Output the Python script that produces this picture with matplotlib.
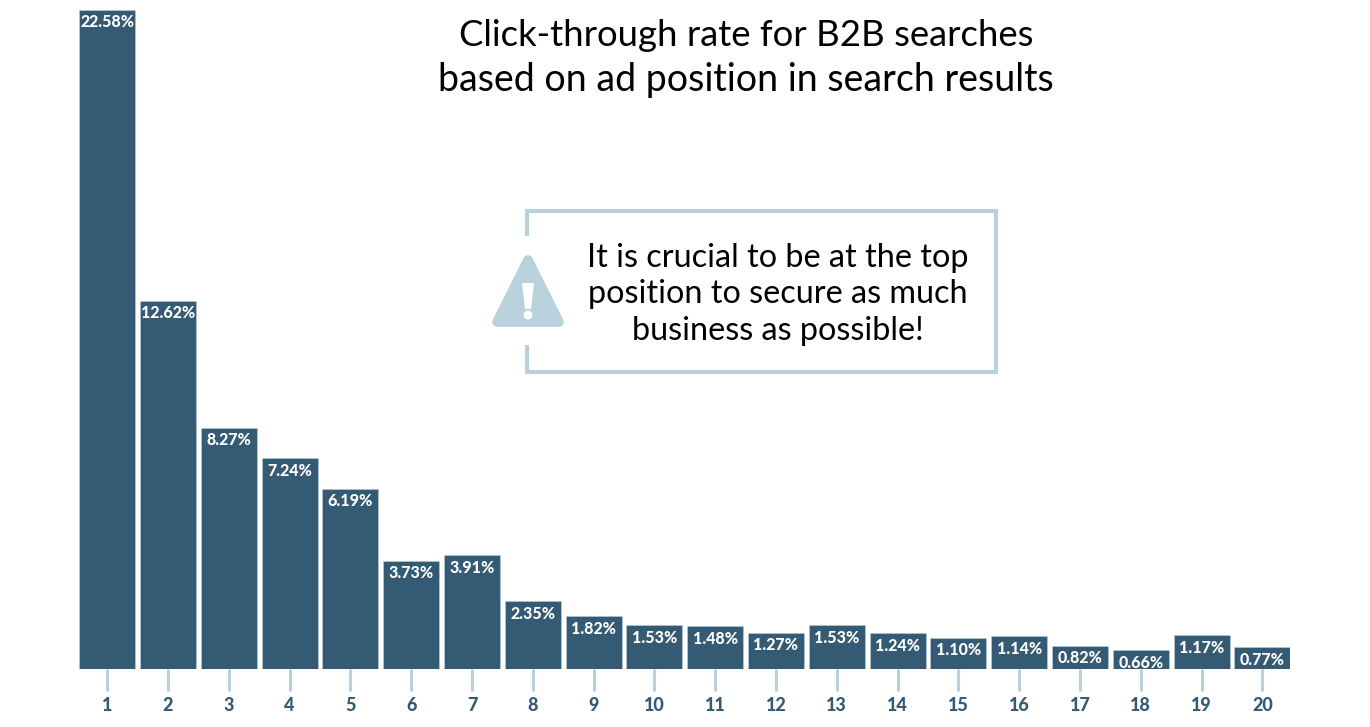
import matplotlib
matplotlib.use('agg')
import matplotlib.pyplot as plt
from matplotlib.patches import Polygon, Circle

positions = list(range(1, 21))
ctr = [22.58, 12.62, 8.27, 7.24, 6.19, 3.73, 3.91, 2.35, 1.82, 1.53,
       1.48, 1.27, 1.53, 1.24, 1.10, 1.14, 0.82, 0.66, 1.17, 0.77]
title_lines = ['Click-through rate for B2B searches',
               'based on ad position in search results']
note_lines = ['It is crucial to be at the top',
              'position to secure as much',
              'business as possible!']

W, H = 1370, 727
BAR = '#355a74'
LIGHT = '#b9d1dd'
plt.rcParams['font.family'] = ['Lato', 'DejaVu Sans']

fig = plt.figure(figsize=(W / 100, H / 100), dpi=100)

# chart axes, placed so bars land on the reference pixels
ax = fig.add_axes([77 / W, 1 - 668.5 / H, (1290 - 77) / W, (668.5 - 9.5) / H])
pitch = 60.8
x0 = 107.2
ax.set_xlim(1 + (77 - x0) / pitch, 1 + (1290 - x0) / pitch)
ax.set_ylim(0.04, 22.58)
ax.bar(positions, ctr, width=56 / pitch, color=BAR, edgecolor=LIGHT, linewidth=0.4)
for p, v in zip(positions, ctr):
    ax.annotate('%.2f%%' % v, (p, v), xytext=(0, -3.3), textcoords='offset points',
                ha='center', va='top', color='white', fontsize=11.5, fontweight='black')
ax.set_xticks(positions)
ax.set_xticklabels(positions, fontsize=13, fontweight='black', color=BAR)
ax.set_yticks([])
ax.tick_params(axis='x', length=15.5, width=2.2, color=LIGHT, pad=5)
for s in ax.spines.values():
    s.set_visible(False)

# overlay in pixel coordinates for the title and callout
ov = fig.add_axes([0, 0, 1, 1])
ov.set_xlim(0, W)
ov.set_ylim(H, 0)
ov.axis('off')
ov.patch.set_alpha(0)
for y, line, size in zip([36, 80], title_lines, [26.3, 27]):
    ov.text(746, y, line, ha='center', va='center', fontsize=size, color='black')
for y, line in zip([258, 294, 331], note_lines):
    ov.text(778, y, line, ha='center', va='center', fontsize=23.3, color='black')
ov.plot([527, 527, 996, 996, 527, 527], [236, 211, 211, 372, 372, 345],
        color=LIGHT, lw=3, solid_joinstyle='miter', solid_capstyle='butt')
ov.add_patch(Polygon([[528, 260], [497, 322], [559, 322]], closed=True,
                     facecolor=LIGHT, edgecolor=LIGHT, lw=7, joinstyle='round'))
# exclamation mark of the warning icon
ov.add_patch(Polygon([[522, 283], [534, 283], [531, 309], [525, 309]], closed=True,
                     facecolor='white', edgecolor='none'))
ov.add_patch(Circle((528, 315), 4.5, facecolor='white', edgecolor='none'))

fig.savefig('out.png', dpi=100)
